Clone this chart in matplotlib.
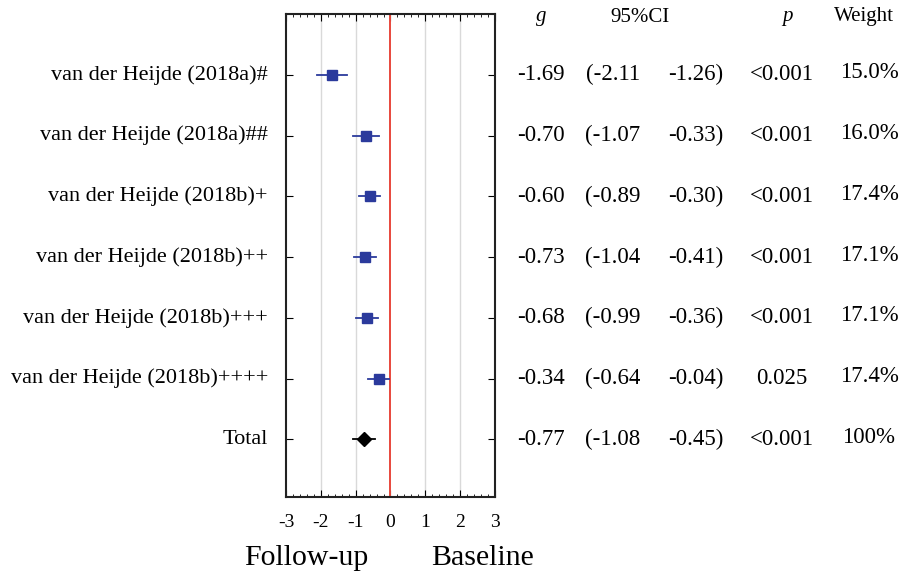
import matplotlib.pyplot as plt
from matplotlib.ticker import MultipleLocator

plt.rcParams['font.family'] = ['Liberation Serif', 'DejaVu Serif']
plt.rcParams['axes.unicode_minus'] = False

studies = ["van der Heijde (2018a)#", "van der Heijde (2018a)##",
           "van der Heijde (2018b)+", "van der Heijde (2018b)++",
           "van der Heijde (2018b)+++", "van der Heijde (2018b)++++",
           "Total"]
g = [-1.69, -0.70, -0.60, -0.73, -0.68, -0.34, -0.77]
ci_low = [-2.11, -1.07, -0.89, -1.04, -0.99, -0.64, -1.08]
ci_high = [-1.26, -0.33, -0.30, -0.41, -0.36, -0.04, -0.45]
p_vals = ["<0.001", "<0.001", "<0.001", "<0.001", "<0.001", "0.025", "<0.001"]
weights = ["15.0%", "16.0%", "17.4%", "17.1%", "17.1%", "17.4%", "100%"]

fig = plt.figure(figsize=(9.04, 5.77), dpi=100)
W, H = 904, 577
ax = fig.add_axes([286 / W, 1 - 497 / H, (495 - 286) / W, (497 - 14) / H])

ys = list(range(1, len(studies) + 1))
blue = "#2B3A9C"
for i, y in enumerate(ys):
    total = studies[i] == "Total"
    col = "black" if total else blue
    ax.plot([ci_low[i], ci_high[i]], [y, y], color=col, lw=1.3, zorder=3)
    ax.plot(g[i], y, marker="D" if total else "s", ms=7 if total else 7.5,
            color=col, zorder=4, ls="none")

ax.axvline(0, color="#E8483C", lw=1.4, zorder=2)
for x in [-2, -1, 1, 2]:
    ax.axvline(x, color="#d9d9d9", lw=1, zorder=1)

ax.set_xlim(-3, 3)
ax.set_ylim(7.95, 0)
ax.set_xticks(range(-3, 4))
ax.xaxis.set_minor_locator(MultipleLocator(0.2))
ax.set_yticks(ys)
ax.set_yticklabels([])
ax.tick_params(axis="x", which="both", direction="in", top=True, labelsize=14, pad=12)
ax.tick_params(axis="x", which="major", length=5)
ax.tick_params(axis="x", which="minor", length=2.5)
ax.tick_params(axis="y", direction="in", right=True, length=5)
for s in ax.spines.values():
    s.set_linewidth(1.5)
    s.set_color("#222222")

def fy(y):
    # data y -> figure fraction
    return ax.transData.transform((0, y))[1] / H

fig.canvas.draw()
fs = 16.5
for i, y in enumerate(ys):
    yy = fy(y)
    fig.text(268 / W, yy, studies[i], ha="right", va="center", fontsize=16)
    fig.text(541 / W, yy, f"{g[i]:.2f}", ha="center", va="center", fontsize=fs)
    fig.text(613 / W, yy, f"({ci_low[i]:.2f}", ha="center", va="center", fontsize=fs)
    fig.text(696 / W, yy, f"{ci_high[i]:.2f})", ha="center", va="center", fontsize=fs)
    fig.text(782 / W, yy, p_vals[i], ha="center", va="center", fontsize=fs)
    fig.text(869 / W, yy + 2 / H, weights[i], ha="center", va="center", fontsize=fs)

hy = 1 - 17 / H
fig.text(541 / W, hy, "g", ha="center", va="center", fontsize=15, style="italic")
fig.text(640 / W, hy, "95%CI", ha="center", va="center", fontsize=15)
fig.text(787 / W, hy, "p", ha="center", va="center", fontsize=15, style="italic")
fig.text(864 / W, hy, "Weight", ha="center", va="center", fontsize=15)

fig.text(306 / W, 1 - 558 / H, "Follow-up", ha="center", va="center", fontsize=21.5)
fig.text(483 / W, 1 - 558 / H, "Baseline", ha="center", va="center", fontsize=21.5)

fig.savefig("out.png", dpi=100)
